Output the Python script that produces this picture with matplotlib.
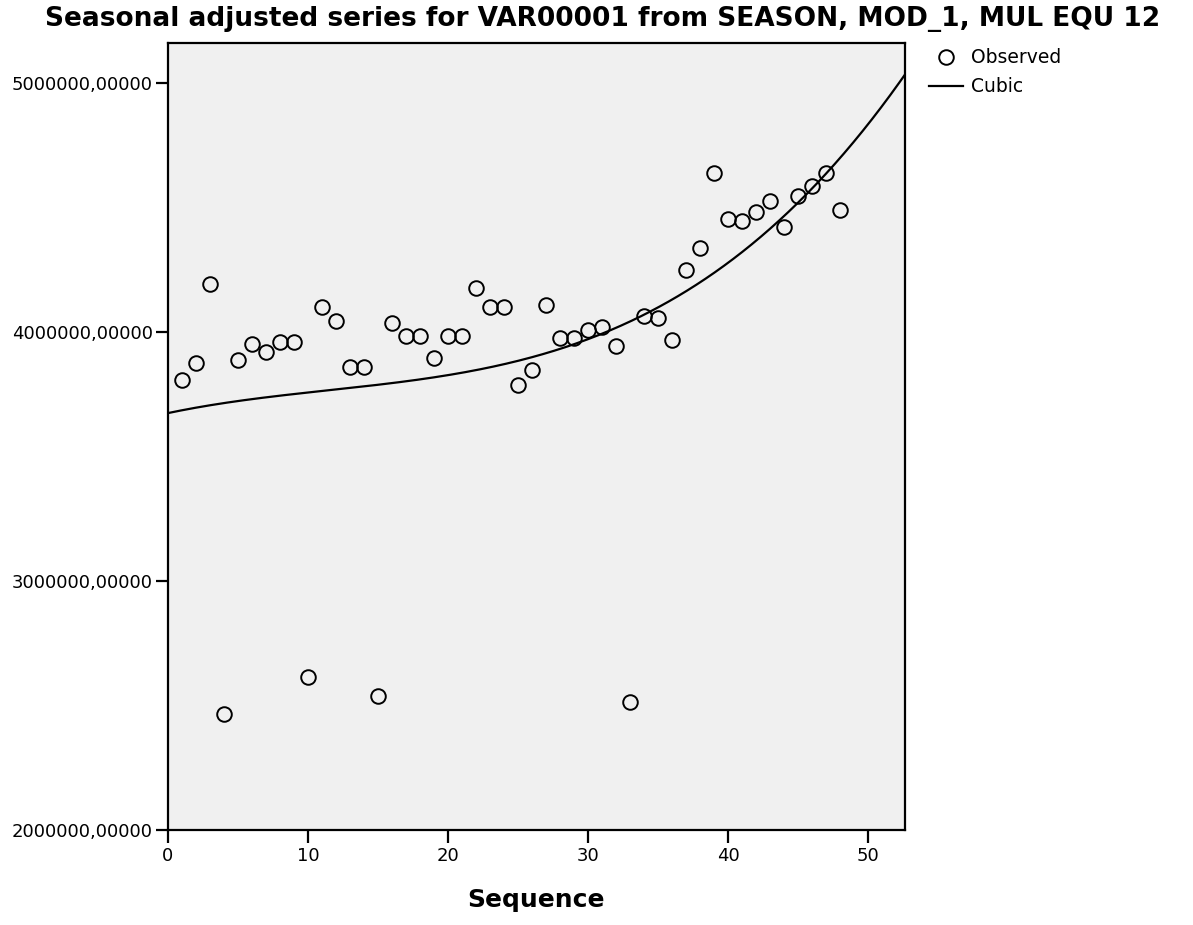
import numpy as np
import matplotlib
matplotlib.use("Agg")
import matplotlib.pyplot as plt
from matplotlib.ticker import FuncFormatter

plt.rcParams['font.family'] = ['DejaVu Sans']

sequence = list(range(1, 49))
observed = [
    3807000, 3876000, 4193000, 2466000, 3888000, 3950000, 3920000, 3960000,
    3960000, 2614000, 4100000, 4044000, 3859000, 3859000, 2538000, 4036000,
    3984000, 3984000, 3896000, 3984000, 3984000, 4177000, 4100000, 4100000,
    3787000, 3847000, 4108000, 3976000, 3976000, 4008000, 4020000, 3944000,
    2514000, 4064000, 4056000, 3968000, 4249000, 4337000, 4639000, 4455000,
    4445000, 4481000, 4525000, 4423000, 4548000, 4588000, 4640000, 4490000,
]
x_ticks = [0, 10, 20, 30, 40, 50]
y_ticks = [2000000, 3000000, 4000000, 5000000]
title = "Seasonal adjusted series for VAR00001 from SEASON, MOD_1, MUL EQU 12"

fig = plt.figure(figsize=(11.93, 9.25), dpi=100)
ax = fig.add_axes([0.1408, 0.1027, 0.6178, 0.8508])
ax.set_facecolor('#F0F0F0')

xs = np.array(sequence, dtype=float)
ys = np.array(observed, dtype=float)
coef = np.polyfit(xs, ys, 3)
xlim = (0, 52.64)
xx = np.linspace(xlim[0], xlim[1], 400)
ax.plot(xx, np.polyval(coef, xx), color='black', lw=1.6, label='Cubic', zorder=2)
ax.plot(xs, ys, 'o', mfc='none', mec='black', mew=1.4, ms=10.5, label='Observed', zorder=3)

ax.set_xlim(*xlim)
ax.set_ylim(2000000, 5160643)
ax.set_xticks(x_ticks)
ax.set_yticks(y_ticks)
ax.yaxis.set_major_formatter(FuncFormatter(lambda v, p: f"{int(v)},00000"))
ax.tick_params(direction='out', length=9, width=1.6, labelsize=13, pad=2, color='black')
ax.tick_params(axis='x', pad=3)
for s in ax.spines.values():
    s.set_linewidth(1.6)

ax.set_xlabel('Sequence', fontsize=18, fontweight='bold', labelpad=17)
fig.text(0.505, 0.980, title, fontsize=19, fontweight='bold', ha='center', va='center')

h, l = ax.get_legend_handles_labels()
fig.legend([h[1], h[0]], [l[1], l[0]], loc='upper left', bbox_to_anchor=(0.779, 0.948),
           frameon=False, fontsize=13.5, handlelength=1.8, handletextpad=0.4,
           labelspacing=0.55, borderaxespad=0, borderpad=0)

fig.savefig('out.png', dpi=100)
